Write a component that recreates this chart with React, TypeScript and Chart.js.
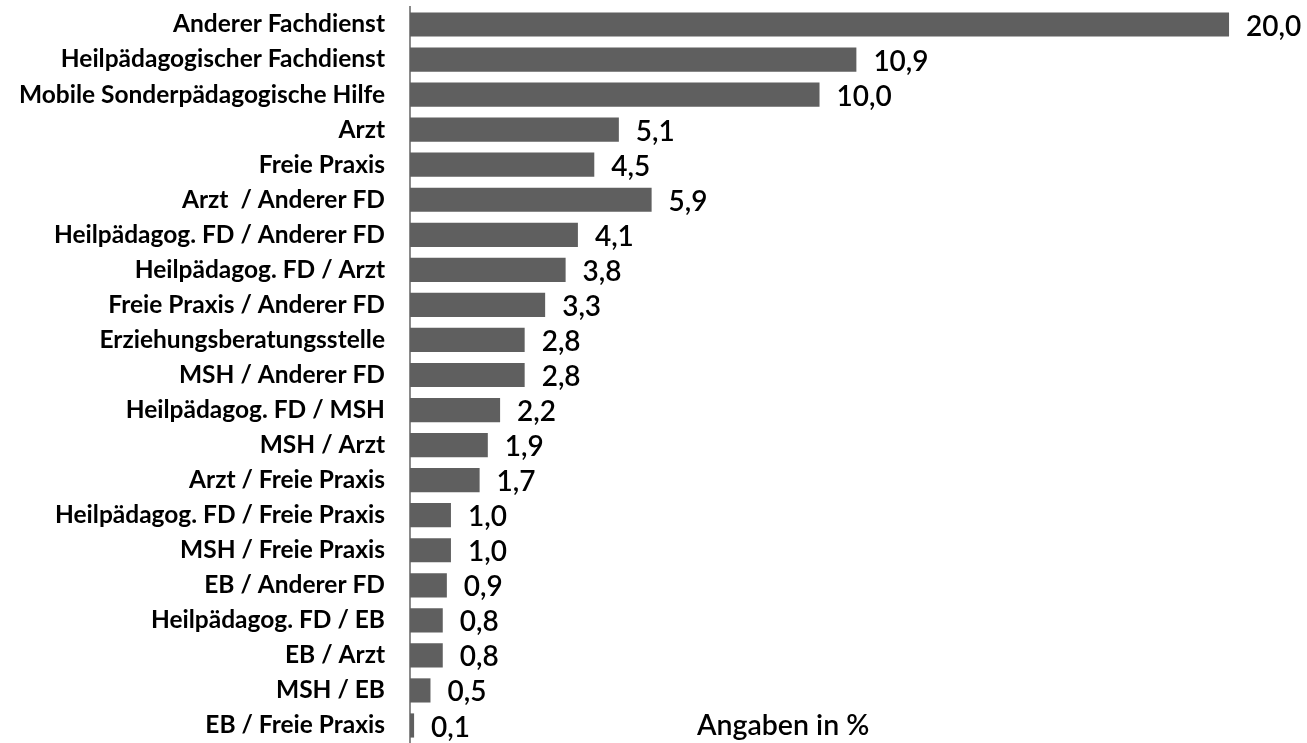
import React, { useEffect, useRef } from "react";
import { Chart, registerables } from "chart.js";

Chart.register(...registerables);

const categories = [
  "Anderer Fachdienst",
  "Heilpädagogischer Fachdienst",
  "Mobile Sonderpädagogische Hilfe",
  "Arzt",
  "Freie Praxis",
  "Arzt  / Anderer FD",
  "Heilpädagog. FD / Anderer FD",
  "Heilpädagog. FD / Arzt",
  "Freie Praxis / Anderer FD",
  "Erziehungsberatungsstelle",
  "MSH / Anderer FD",
  "Heilpädagog. FD / MSH",
  "MSH / Arzt",
  "Arzt / Freie Praxis",
  "Heilpädagog. FD / Freie Praxis",
  "MSH / Freie Praxis",
  "EB / Anderer FD",
  "Heilpädagog. FD / EB",
  "EB / Arzt",
  "MSH / EB",
  "EB / Freie Praxis",
];

const values = [20.0, 10.9, 10.0, 5.1, 4.5, 5.9, 4.1, 3.8, 3.3, 2.8, 2.8, 2.2, 1.9, 1.7, 1.0, 1.0, 0.9, 0.8, 0.8, 0.5, 0.1];

const noteText = "Angaben in %";

const valueLabelPlugin = {
  id: "valueLabels",
  afterDatasetsDraw(chart: any) {
    const ctx = chart.ctx;
    const meta = chart.getDatasetMeta(0);
    ctx.save();
    ctx.fillStyle = "#000";
    ctx.font = "600 28px Lato";
    ctx.textAlign = "left";
    ctx.textBaseline = "middle";
    meta.data.forEach((bar: any, i: number) => {
      const txt = values[i].toFixed(1).replace(".", ",");
      ctx.fillText(txt, bar.x + 17, bar.y + 2);
    });
    ctx.font = "600 28.5px Lato";
    ctx.fillText(noteText, 697, 726);
    ctx.restore();
  },
};

export default function App() {
  const ref = useRef<HTMLCanvasElement | null>(null);
  useEffect(() => {
    if (!ref.current) return;
    const chart = new Chart(ref.current, {
      type: "bar",
      data: {
        labels: categories,
        datasets: [
          {
            data: values,
            backgroundColor: "#5f5f5f",
            borderWidth: 0,
            categoryPercentage: 1,
            barPercentage: 0.69,
          },
        ],
      },
      options: {
        indexAxis: "y",
        animation: false,
        responsive: false,
        maintainAspectRatio: false,
        layout: { padding: { top: 7, bottom: 0, left: 0, right: 37 } },
        plugins: { legend: { display: false }, tooltip: { enabled: false } },
        scales: {
          x: {
            display: false,
            min: 0,
            max: 21,
          },
          y: {
            grid: { display: false, drawTicks: false },
            border: { display: true, color: "#8a8a8a", width: 2 },
            ticks: {
              color: "#000",
              font: { family: "Lato", size: 24.5, weight: "bold" },
              padding: 25,
              autoSkip: false,
            },
            afterFit(scale: any) {
              scale.width = 410;
              scale.paddingTop = 0;
              scale.paddingBottom = 0;
            },
          },
        },
      },
      plugins: [valueLabelPlugin],
    });
    return () => chart.destroy();
  }, []);
  return (
    <canvas
      ref={ref}
      width={1307}
      height={743}
      style={{ position: "absolute", left: 0, top: 0, width: 1307, height: 743 }}
    />
  );
}
